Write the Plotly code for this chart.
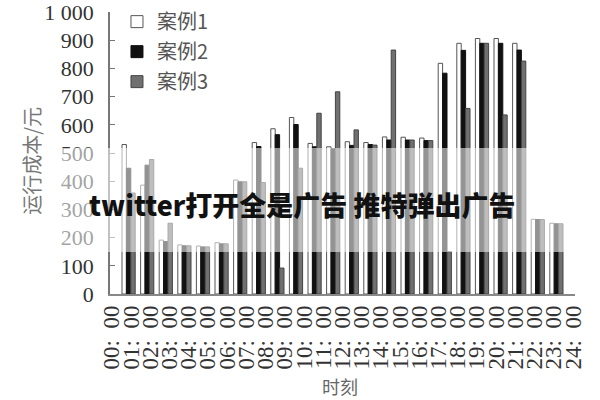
import plotly.graph_objects as go

# hourly groups (bars) and the 25 hour labels shown under the axis
hours = [f"{h:02d}:00" for h in range(24)]
tick_labels = [f"{h:02d}:\u00a0\u00a000" for h in range(25)]

# running cost per case (yuan)
case1 = [530, 386, 191, 174, 170, 182, 404, 537, 586, 626, 534, 522,
         540, 537, 557, 556, 553, 818, 889, 906, 906, 889, 265, 251]
case2 = [446, 457, 186, 171, 167, 178, 398, 523, 565, 601, 522, 515,
         527, 530, 546, 546, 544, 783, 864, 889, 889, 865, 264, 249]
case3 = [358, 477, 251, 171, 167, 178, 398, 395, 92, 446, 641, 717,
         582, 528, 865, 546, 544, 150, 658, 889, 635, 826, 264, 249]

y_ticks = list(range(0, 1001, 100))
y_text = [str(v) if v < 1000 else "1 000" for v in y_ticks]

SERIF = "Liberation Serif, DejaVu Serif, serif"
CJK = "Noto Sans CJK SC, sans-serif"

fig = go.Figure()

series = [
    ("案例1", case1, "white", "#555555"),
    ("案例2", case2, "#111111", "#111111"),
    ("案例3", case3, "#707070", "#444444"),
]
for i, (name, vals, fill, edge) in enumerate(series):
    fig.add_trace(go.Bar(
        x=hours, y=vals, name=name, legendgroup=f"g{i}",
        marker=dict(color=fill, line=dict(color=edge, width=1)),
    ))

# helper trace so the label axis (x2) is drawn
fig.add_trace(go.Scatter(
    x=list(range(len(tick_labels))), y=[0] * len(tick_labels),
    xaxis="x2", mode="markers", marker=dict(opacity=0),
    showlegend=False, hoverinfo="skip",
))

fig.update_layout(
    width=600, height=400,
    margin=dict(l=110, r=25, t=12, b=106, autoexpand=False),
    paper_bgcolor="white", plot_bgcolor="white",
    barmode="group", bargap=0.29, bargroupgap=0,
    font=dict(family=SERIF, color="#444444"),
    legend=dict(
        x=0.015, y=1.035, xanchor="left", yanchor="top",
        font=dict(family=CJK, size=20, color="#555555"),
        tracegroupgap=1, itemwidth=30, bgcolor="rgba(0,0,0,0)",
    ),
    xaxis=dict(
        type="category", categoryorder="array", categoryarray=hours,
        range=[-1, 24], showticklabels=False, ticks="",
        showline=True, linecolor="#888888", linewidth=1.5,
        showgrid=False, zeroline=False, automargin=False,
    ),
    xaxis2=dict(
        overlaying="x", anchor="y", side="bottom",
        range=[-0.1, 24.1], tickmode="array",
        tickvals=list(range(len(tick_labels))), ticktext=tick_labels,
        tickangle=-90, tickfont=dict(family=SERIF, size=23, color="#333333"),
        ticklabelstandoff=6,
        showline=False, showgrid=False, zeroline=False, ticks="",
        automargin=False,
    ),
    yaxis=dict(
        range=[0, 1000], tickmode="array", tickvals=y_ticks, ticktext=y_text,
        tickfont=dict(family=SERIF, size=22, color="#333333"),
        ticks="inside", ticklen=5, tickcolor="#777777",
        ticklabelstandoff=10, ticklabeloverflow="allow",
        showline=True, linecolor="#777777", linewidth=1.5,
        showgrid=False, zeroline=False, automargin=False,
    ),
)

# axis titles
fig.add_annotation(
    text="时刻", xref="paper", yref="paper", x=0.495, y=-0.326,
    xanchor="center", yanchor="middle",
    showarrow=False, font=dict(family=CJK, size=18, color="#666666"),
)
fig.add_annotation(
    text="运行成本/元", xref="paper", yref="paper", x=-0.168, y=0.472,
    xanchor="center", yanchor="middle", textangle=-90, showarrow=False,
    font=dict(family=CJK, size=20, color="#777777"),
)

# washed-out strip across the middle of the picture plus its caption
fig.add_shape(
    type="rect", xref="paper", yref="paper",
    x0=-0.3, x1=1.1, y0=0.149, y1=0.518,
    fillcolor="white", opacity=0.55, line=dict(width=0), layer="above",
)
fig.add_annotation(
    text="twitter打开全是广告 推特弹出广告",
    xref="paper", yref="paper", x=0.413, y=0.316,
    xanchor="center", yanchor="middle", showarrow=False,
    font=dict(family=CJK, size=27, color="#111111", weight=900),
)

# drop the default 8px body margin so the figure sits at the page corner
fig.write_html(
    "out.html",
    config={"displayModeBar": False},
    post_script="document.body.style.margin='0px';",
)
